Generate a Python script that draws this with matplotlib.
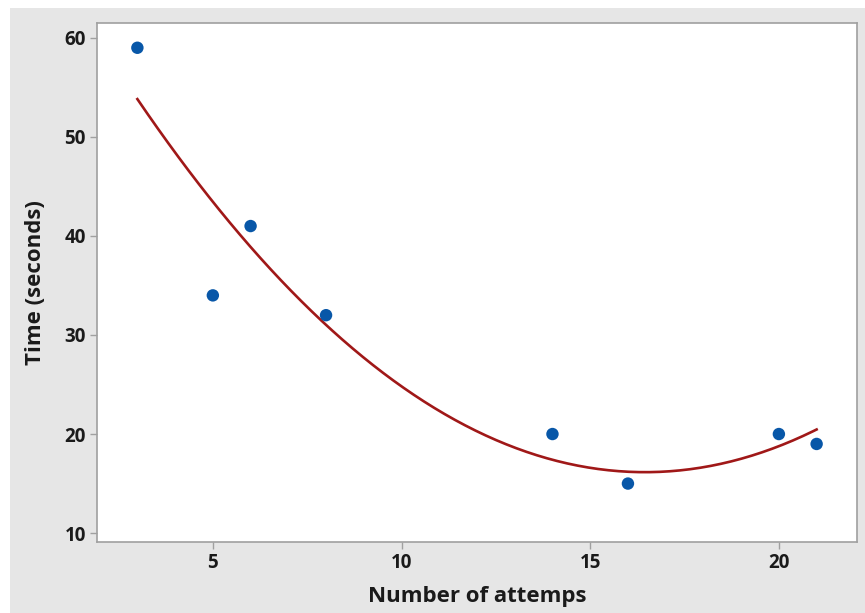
import numpy as np
import matplotlib
matplotlib.use("Agg")
import matplotlib.pyplot as plt
from matplotlib.patches import Rectangle

attempts = [3, 5, 6, 8, 14, 16, 20, 21]
times = [59, 34, 41, 32, 20, 15, 20, 19]
x_ticks = [5, 10, 15, 20]
y_ticks = [10, 20, 30, 40, 50, 60]

plt.rcParams['font.family'] = ['Open Sans', 'DejaVu Sans']

W, H = 865, 613
fig = plt.figure(figsize=(W / 100, H / 100), dpi=100)
fig.patch.set_facecolor('white')
fig.patches.append(Rectangle((10 / W, 0), 1 - 10 / W, 1 - 8 / H,
                             transform=fig.transFigure, facecolor='#e6e6e6',
                             edgecolor='none', zorder=-10))

left, right, top, bottom = 97, 857, 23, 542
ax = fig.add_axes([left / W, 1 - bottom / H, (right - left) / W, (bottom - top) / H])
ax.set_facecolor('white')

coef = np.polyfit(attempts, times, 2)
xs = np.linspace(min(attempts), max(attempts), 200)
ax.plot(xs, np.polyval(coef, xs), color='#a01818', lw=1.9, zorder=2)
ax.scatter(attempts, times, s=80, color='#0857a8', zorder=3, edgecolors='none')

ax.set_xlim(1.93, 22.07)
ax.set_ylim(9.1, 61.5)
ax.set_xticks(x_ticks)
ax.set_yticks(y_ticks)
for s in ax.spines.values():
    s.set_color('#a0a0a0')
    s.set_linewidth(1.2)
ax.tick_params(direction='out', length=5, width=1, color='#a0a0a0',
               labelsize=13.5, labelcolor='#1a1a1a', pad=3)
for lab in ax.get_xticklabels() + ax.get_yticklabels():
    lab.set_fontweight('bold')

ax.set_xlabel('Number of attemps', fontsize=16, fontweight='bold', color='#1a1a1a', labelpad=9)
ax.set_ylabel('Time (seconds)', fontsize=16, fontweight='bold', color='#1a1a1a', labelpad=13)

fig.savefig('out.png', dpi=100, facecolor=fig.get_facecolor())
